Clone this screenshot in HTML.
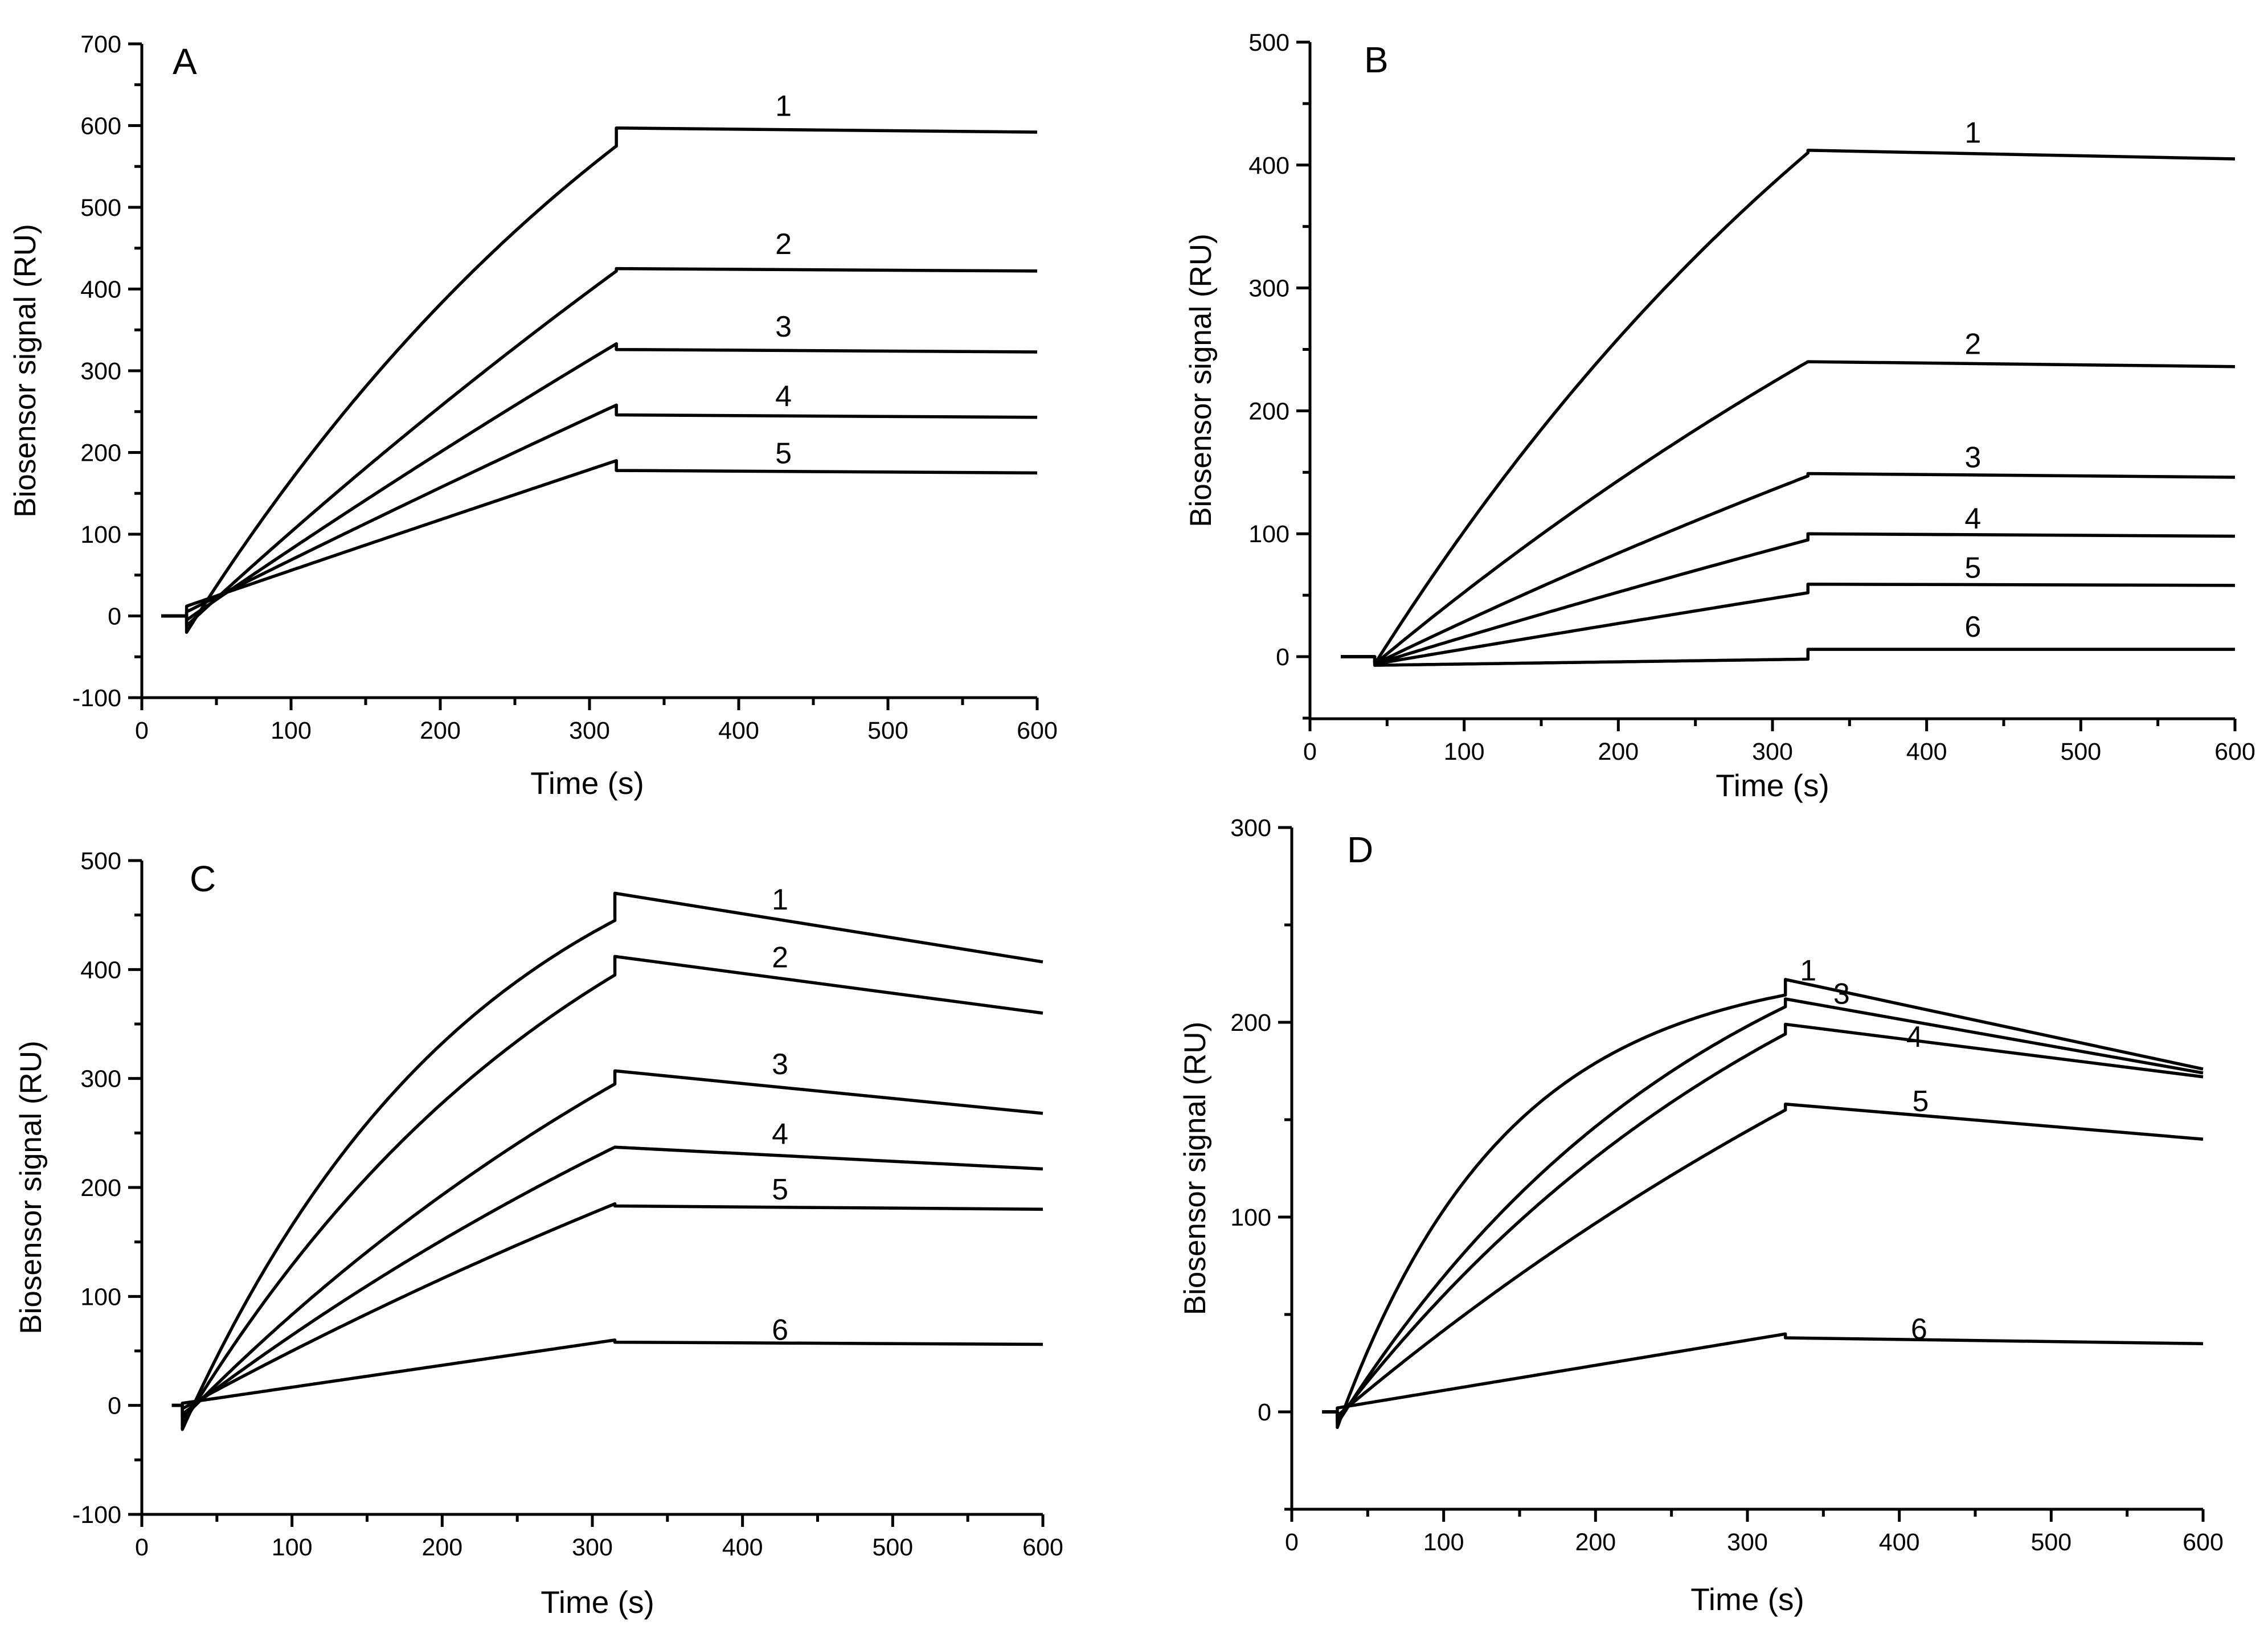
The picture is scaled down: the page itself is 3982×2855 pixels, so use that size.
<!DOCTYPE html>
<html><head><meta charset="utf-8"><style>
html,body{margin:0;padding:0;background:#fff}
svg{display:block}
text{font-family:"Liberation Sans",sans-serif;fill:#000}
</style></head><body>
<svg id="fig" xmlns="http://www.w3.org/2000/svg" width="3982" height="2855" viewBox="0 0 3982 2855"></svg>
<script>
// Panel A data
const aT0=30, aTEnd=318, aStart=[-20,-12,-5,5,12], aAssocEnd=[575,422,333,258,190], aDissStart=[597,425,326,246,178], aDissEnd=[592,422,323,243,175], aK=[0.0025,0.0008,0.0005,0.0003,0.0001];
const aLabels=["1","2","3","4","5"], aLabelX=[430,430,430,430,430], aLabelY=[625,456,355,270,200];
// Panel B data
const bT0=42, bTEnd=323, bStart=[-6,-6,-6,-6,-6,-7], bAssocEnd=[410,240,147,95,52,-2], bDissStart=[412,240,149,100,59,6], bDissEnd=[405,236,146,98,58,6], bK=[0.0022,0.0013,0.0008,0.0005,0.0002,0];
const bLabels=["1","2","3","4","5","6"], bLabelX=[430,430,430,430,430,430], bLabelY=[427,255,163,113,73,25];
// Panel C data
const cT0=27, cTEnd=315, cStart=[-22,-18,-12,-8,-3,2], cAssocEnd=[445,395,295,237,185,60], cDissStart=[470,412,307,237,183,58], cDissEnd=[407,360,268,217,180,56], cK=[0.005,0.0035,0.002,0.0015,0.001,0];
const cLabels=["1","2","3","4","5","6"], cLabelX=[425,425,425,425,425,425], cLabelY=[465,412,314,250,199,70];
// Panel D data
const dT0=30, dTEnd=325, dStart=[-8,-6,-4,-2,2], dAssocEnd=[214,208,194,155,40], dDissStart=[222,212,199,158,38], dDissEnd=[176,174,172,140,35], dK=[0.009,0.004,0.003,0.0015,0];
const dLabels=["1","3","4","5","6"], dLabelX=[340,362,410,414,413], dLabelY=[227,215,193,160,43];

const NS="http://www.w3.org/2000/svg";
const svg=document.getElementById('fig');
function mk(tag,attrs,parent){const e=document.createElementNS(NS,tag);for(const k in attrs)e.setAttribute(k,attrs[k]);(parent||svg).appendChild(e);return e;}

function panel(o){
  const g=mk('g',{});
  
  
  const X=v=>o.px0+(v-0)/600*(o.px1-o.px0);
  const Y=v=>o.py0-(v-o.ymin)/(o.ymax-o.ymin)*(o.py0-o.py1);
  const ax=mk('path',{d:`M${o.px0},${o.py1} V${o.py0} H${o.px1}`,stroke:'#000','stroke-width':5,fill:'none'},g);
  
  
  for(let v=0;v<=600;v+=50){
    const maj=v%100===0;
    mk('line',{x1:X(v),x2:X(v),y1:o.py0,y2:o.py0+(maj?22:13),stroke:'#000','stroke-width':5},g);
    if(maj){const t=mk('text',{x:X(v),y:o.py0+72,'font-size':43,'text-anchor':'middle'},g);t.textContent=v;
      
      }
  }
  const yStart=Math.ceil(o.ymin/50)*50;
  for(let v=yStart;v<=o.ymax+0.1;v+=50){
    const maj=((v%100)+100)%100===0;
    mk('line',{x1:o.px0,x2:o.px0-(maj?24:13),y1:Y(v),y2:Y(v),stroke:'#000','stroke-width':5},g);
    if(maj){const t=mk('text',{x:o.px0-36,y:Y(v)+15,'font-size':43,'text-anchor':'end'},g);t.textContent=v;
      
      }
  }
  const yt=mk('text',{x:0,y:0,'font-size':53,'text-anchor':'middle',transform:`translate(${o.ytx},${(o.py0+o.py1)/2}) rotate(-90)`},g);
  yt.textContent='Biosensor signal (RU)';
  
  
  const xt=mk('text',{x:o.xtx,y:o.xty,'font-size':55,'text-anchor':'middle'},g);
  xt.textContent='Time (s)';
  
  
  const pl=mk('text',{x:o.lx,y:o.ly,'font-size':64},g);
  pl.textContent=o.id;
  
  
  const n=o.start.length;
  for(let i=0;i<n;i++){
    let d=`M${X(o.tb)},${Y(0)} L${X(o.t0)},${Y(0)} L${X(o.t0)},${Y(o.start[i])}`;
    const T=o.tEnd-o.t0, k=o.k[i];
    for(let t=o.t0;t<=o.tEnd;t+=2){
      const f=k>0?(1-Math.exp(-k*(t-o.t0)))/(1-Math.exp(-k*T)):(t-o.t0)/T;
      const v=o.start[i]+(o.assocEnd[i]-o.start[i])*f;
      d+=` L${X(t).toFixed(1)},${Y(v).toFixed(1)}`;
    }
    d+=` L${X(o.tEnd)},${Y(o.assocEnd[i])} L${X(o.tEnd)},${Y(o.dissStart[i])} L${X(600)},${Y(o.dissEnd[i])}`;
    const p=mk('path',{d:d,stroke:'#000','stroke-width':5.5,fill:'none','stroke-linejoin':'round'},g);
    
    
    const lt=mk('text',{x:X(o.labelX[i]),y:Y(o.labelY[i])+19,'font-size':52,'text-anchor':'middle'},g);
    lt.textContent=o.labels[i];
    
    
  }
}
panel({id:'A',px0:249,px1:1821,py0:1225,py1:77,ymin:-100,ymax:700,ytx:62,xtx:1031,xty:1394,lx:303,ly:130,
  tb:13,t0:aT0,tEnd:aTEnd,start:aStart,assocEnd:aAssocEnd,dissStart:aDissStart,dissEnd:aDissEnd,k:aK,labels:aLabels,labelX:aLabelX,labelY:aLabelY});
panel({id:'B',px0:2300,px1:3924,py0:1262,py1:74,ymin:-50.5,ymax:500,ytx:2126,xtx:3112,xty:1398,lx:2395,ly:127,
  tb:20,t0:bT0,tEnd:bTEnd,start:bStart,assocEnd:bAssocEnd,dissStart:bDissStart,dissEnd:bDissEnd,k:bK,labels:bLabels,labelX:bLabelX,labelY:bLabelY});
panel({id:'C',px0:249,px1:1831,py0:2659,py1:1511,ymin:-100,ymax:500,ytx:72,xtx:1049,xty:2832,lx:333,ly:1565,
  tb:20,t0:cT0,tEnd:cTEnd,start:cStart,assocEnd:cAssocEnd,dissStart:cDissStart,dissEnd:cDissEnd,k:cK,labels:cLabels,labelX:cLabelX,labelY:cLabelY});
panel({id:'D',px0:2268,px1:3868,py0:2650,py1:1453,ymin:-50,ymax:300,ytx:2116,xtx:3068,xty:2827,lx:2365,ly:1514,
  tb:20,t0:dT0,tEnd:dTEnd,start:dStart,assocEnd:dAssocEnd,dissStart:dDissStart,dissEnd:dDissEnd,k:dK,labels:dLabels,labelX:dLabelX,labelY:dLabelY});
</script>
</body></html>
